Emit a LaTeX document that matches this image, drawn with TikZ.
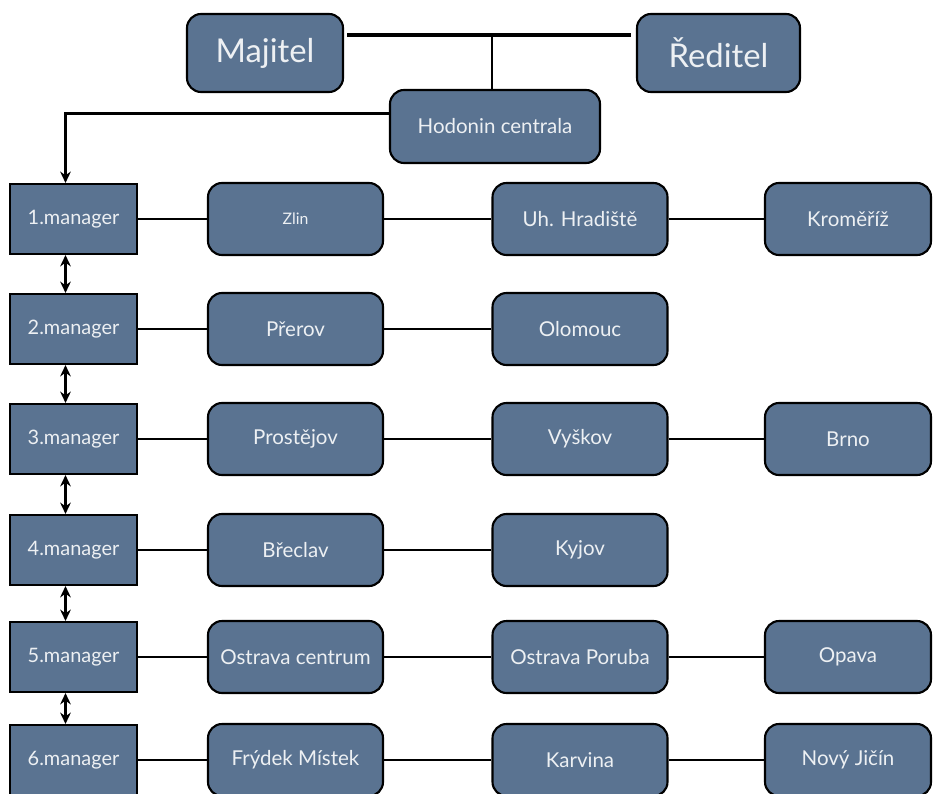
\documentclass[tikz,border=0pt]{standalone}
\usepackage{fontspec}
\setmainfont{Lato}
\usetikzlibrary{arrows.meta,calc}
\definecolor{slate}{HTML}{5A7391}
\definecolor{paper}{HTML}{EDF0F3}

\begin{document}
\begin{tikzpicture}[x=0.03cm,y=-0.03cm,
    box/.style={draw=black,line width=1.8pt,fill=slate,text=paper,inner sep=0pt},
    office/.style={box,rounded corners=12pt,minimum height=2.34cm,font=\fontsize{28}{30}\selectfont},
    mgr/.style={box,minimum width=3.81cm,minimum height=2.1cm,font=\fontsize{17}{19}\selectfont},
    city/.style={box,rounded corners=12pt,minimum width=5.25cm,minimum height=2.16cm,font=\fontsize{17.5}{19}\selectfont},
    link/.style={line width=2.3pt},
    dbl/.style={line width=2.3pt,{Stealth[length=3.4mm,width=3.2mm]}-{Stealth[length=3.4mm,width=3.2mm]}}]
  \path[use as bounding box] (0,0) rectangle (933,794);
  \fill[white] (0,0) rectangle (933,794);

  % top of the chart
  \node[office,minimum width=4.68cm] (maj) at (265,53) {Majitel};
  \node[office,minimum width=4.89cm] (red) at (718.5,53) {Ředitel};
  \node[city,minimum width=6.3cm,minimum height=2.19cm] (hod) at (495,126.5) {Hodonin centrala};
  \draw[line width=2.8pt] ($(maj.east)+(3,-18)$) -- ($(red.west)+(-5,-18)$);
  \coordinate (tee) at (492,37);
  \draw[link] (tee) -- (tee |- hod.north);

  % managers
  \foreach \n/\y in {1/219,2/329,3/439,4/550,5/657,6/760}
    \node[mgr] (m\n) at (73.5,\y) {\n.manager};
  \draw[link,-{Stealth[length=3.4mm,width=3.2mm]}] ($(hod.west)+(0,-13)$) -| ($(m1.north)+(-8,0)$);
  \foreach \a/\b in {1/2,2/3,3/4,4/5,5/6}
    \draw[dbl] ($(m\a.south)+(-8,0)$) -- ($(m\b.north)+(-8,0)$);

  % branches
  \node[city,font=\fontsize{13.5}{15}\selectfont] (c11) at (295.5,219) {Zlin};
  \node[city] (c12) at (580,219) {Uh. Hradiště};
  \node[city,minimum width=4.98cm] (c13) at (848,219) {Kroměříž};
  \node[city] (c21) at (295.5,329) {Přerov};
  \node[city] (c22) at (580,329) {Olomouc};
  \node[city] (c31) at (295.5,439) {Prostějov};
  \node[city] (c32) at (580,439) {Vyškov};
  \node[city,minimum width=4.98cm] (c33) at (848,439) {Brno};
  \node[city] (c41) at (295.5,550) {Břeclav};
  \node[city] (c42) at (580,550) {Kyjov};
  \node[city] (c51) at (295.5,657) {Ostrava centrum};
  \node[city] (c52) at (580,657) {Ostrava Poruba};
  \node[city,minimum width=4.98cm] (c53) at (848,657) {Opava};
  \node[city] (c61) at (295.5,760) {Frýdek Místek};
  \node[city] (c62) at (580,760) {Karvina};
  \node[city,minimum width=4.98cm] (c63) at (848,760) {Nový Jičín};

  \foreach \a/\b in {m1/c11,c11/c12,c12/c13,m2/c21,c21/c22,m3/c31,c31/c32,c32/c33,
                     m4/c41,c41/c42,m5/c51,c51/c52,c52/c53,m6/c61,c61/c62,c62/c63}
    \draw[link] (\a) -- (\b);
\end{tikzpicture}
\end{document}
